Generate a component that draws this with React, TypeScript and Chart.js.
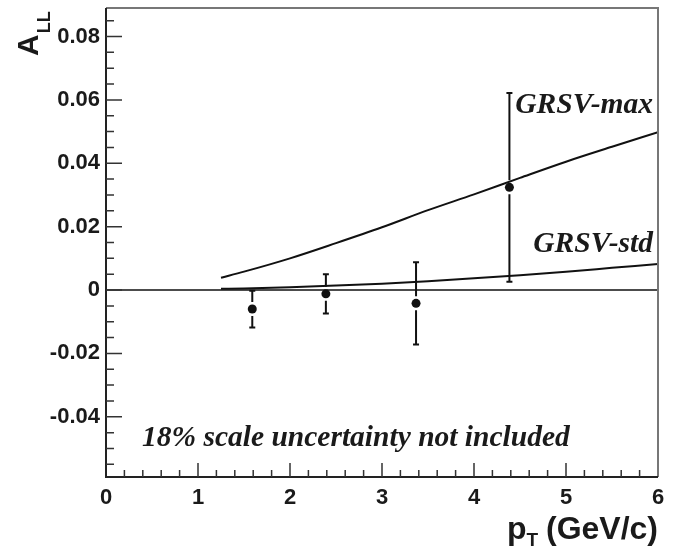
import React, { useEffect, useRef } from "react";
import { Chart, registerables } from "chart.js";
Chart.register(...registerables);

// Measured asymmetry points
const dataX = [1.59, 2.39, 3.37, 4.385];
const dataY = [-0.006, -0.0012, -0.0042, 0.0324];
const dataErr = [0.0058, 0.0062, 0.013, 0.0298];

// Theory curves
const curveX = [1.25, 1.5, 2, 2.5, 3, 3.5, 4, 4.5, 5, 5.5, 6];
const maxY = [0.0039, 0.0058, 0.01, 0.0148, 0.0198, 0.0252, 0.0302, 0.0354, 0.0405, 0.0452, 0.0498];
const stdY = [0.0004, 0.0005, 0.0009, 0.0014, 0.002, 0.0028, 0.0037, 0.0047, 0.0058, 0.007, 0.0082];

const xTicks = [0, 1, 2, 3, 4, 5, 6];
const yTicks = [-0.04, -0.02, 0, 0.02, 0.04, 0.06, 0.08];
const xMinorStep = 0.2;
const yMinorStep = 0.005;

const labelMax = "GRSV-max";
const labelStd = "GRSV-std";
const noteText = "18% scale uncertainty not included";

const X_MIN = 0, X_MAX = 6, Y_MIN = -0.059, Y_MAX = 0.089;

const decorPlugin = {
  id: "decor",
  beforeDatasetsDraw(chart: any) {
    const { ctx, chartArea: a, scales } = chart;
    const y = scales.y;
    ctx.save();
    ctx.strokeStyle = "#111";
    ctx.lineWidth = 1.5;
    const y0 = y.getPixelForValue(0);
    ctx.beginPath();
    ctx.moveTo(a.left, y0);
    ctx.lineTo(a.right, y0);
    ctx.stroke();
    ctx.restore();
  },
  afterDatasetsDraw(chart: any) {
    const { ctx, chartArea: a, scales } = chart;
    const x = scales.x, y = scales.y;
    ctx.save();
    // error bars
    ctx.strokeStyle = "#111";
    ctx.lineWidth = 2;
    const gap = 7, cap = 3;
    for (let i = 0; i < dataX.length; i++) {
      const px = x.getPixelForValue(dataX[i]);
      const py = y.getPixelForValue(dataY[i]);
      const pt = y.getPixelForValue(dataY[i] + dataErr[i]);
      const pb = y.getPixelForValue(dataY[i] - dataErr[i]);
      ctx.beginPath();
      if (pt < py - gap) { ctx.moveTo(px, pt); ctx.lineTo(px, py - gap); }
      if (pb > py + gap) { ctx.moveTo(px, py + gap); ctx.lineTo(px, pb); }
      ctx.moveTo(px - cap, pt); ctx.lineTo(px + cap, pt);
      ctx.moveTo(px - cap, pb); ctx.lineTo(px + cap, pb);
      ctx.stroke();
    }
    // frame
    ctx.lineWidth = 2;
    ctx.strokeStyle = "#777";
    ctx.beginPath();
    ctx.moveTo(a.left, a.top); ctx.lineTo(a.right, a.top); ctx.lineTo(a.right, a.bottom);
    ctx.stroke();
    ctx.strokeStyle = "#222";
    ctx.beginPath();
    ctx.moveTo(a.left, a.top); ctx.lineTo(a.left, a.bottom); ctx.lineTo(a.right, a.bottom);
    ctx.stroke();
    // ticks
    ctx.lineWidth = 1.5;
    ctx.strokeStyle = "#333";
    ctx.beginPath();
    for (let k = -20; k <= 20; k++) {
      const v = Math.round((k * yMinorStep) * 1e6) / 1e6;
      if (v < Y_MIN || v > Y_MAX) continue;
      const major = Math.abs(v / 0.02 - Math.round(v / 0.02)) < 1e-6;
      const py = y.getPixelForValue(v);
      ctx.moveTo(a.left, py); ctx.lineTo(a.left + (major ? 16 : 8), py);
    }
    for (let k = 0; k <= 30; k++) {
      const v = k * xMinorStep;
      if (v <= X_MIN + 1e-9 || v >= X_MAX - 1e-9) continue;
      const major = Math.abs(v - Math.round(v)) < 1e-6;
      const px = x.getPixelForValue(v);
      ctx.moveTo(px, a.bottom); ctx.lineTo(px, a.bottom - (major ? 14 : 7));
    }
    ctx.stroke();
    // curve labels & note
    ctx.fillStyle = "#1a1a1a";
    ctx.font = "italic bold 29.5px 'Liberation Serif'";
    ctx.textAlign = "right";
    ctx.textBaseline = "alphabetic";
    ctx.fillText(labelMax, 653, 113);
    ctx.fillText(labelStd, 653, 252);
    ctx.textAlign = "left";
    ctx.fillText(noteText, 142, 446);
    // x title
    ctx.font = "bold 32px 'Liberation Sans'";
    ctx.textAlign = "right";
    const rest = " (GeV/c)";
    const restW = ctx.measureText(rest).width;
    ctx.fillText(rest, 658, 539);
    ctx.font = "bold 19px 'Liberation Sans'";
    const tW = ctx.measureText("T").width;
    ctx.fillText("T", 658 - restW + 1, 546);
    ctx.font = "bold 32px 'Liberation Sans'";
    ctx.fillText("p", 658 - restW - tW + 1, 539);
    // y title
    ctx.save();
    ctx.translate(38, 56);
    ctx.rotate(-Math.PI / 2);
    ctx.textAlign = "left";
    ctx.font = "bold 30px 'Liberation Sans'";
    ctx.fillText("A", 0, 0);
    const aW = ctx.measureText("A").width;
    ctx.font = "bold 18px 'Liberation Sans'";
    ctx.fillText("LL", aW + 1, 12);
    ctx.restore();
    ctx.restore();
  },
};

export default function App() {
  const ref = useRef<HTMLCanvasElement | null>(null);
  useEffect(() => {
    if (!ref.current) return;
    const tickFont = { family: "'Liberation Sans'", weight: "bold" as const, size: 22 };
    const chart = new Chart(ref.current, {
      type: "scatter",
      data: {
        datasets: [
          {
            label: "GRSV-max",
            data: curveX.map((v, i) => ({ x: v, y: maxY[i] })),
            showLine: true,
            pointRadius: 0,
            borderColor: "#111",
            borderWidth: 2,
            cubicInterpolationMode: "monotone",
          },
          {
            label: "GRSV-std",
            data: curveX.map((v, i) => ({ x: v, y: stdY[i] })),
            showLine: true,
            pointRadius: 0,
            borderColor: "#111",
            borderWidth: 2,
            cubicInterpolationMode: "monotone",
          },
          {
            label: "data",
            data: dataX.map((v, i) => ({ x: v, y: dataY[i] })),
            pointRadius: 4.5,
            backgroundColor: "#111",
            borderWidth: 0,
          },
        ],
      },
      options: {
        responsive: false,
        animation: false,
        layout: { padding: { top: 8, right: 30, left: 0, bottom: 0 } },
        plugins: { legend: { display: false }, tooltip: { enabled: false } },
        scales: {
          x: {
            type: "linear",
            min: X_MIN,
            max: X_MAX,
            afterBuildTicks: (s: any) => { s.ticks = xTicks.map((v) => ({ value: v })); },
            afterFit: (s: any) => { s.height = 72; s.paddingLeft = 0; s.paddingRight = 0; },
            grid: { display: false, drawTicks: false },
            border: { display: false },
            ticks: { font: tickFont, color: "#1a1a1a", padding: 8, maxRotation: 0, autoSkip: false, callback: (v: any) => String(v) },
          },
          y: {
            type: "linear",
            min: Y_MIN,
            max: Y_MAX,
            afterBuildTicks: (s: any) => { s.ticks = yTicks.map((v) => ({ value: v })); },
            afterFit: (s: any) => { s.width = 106; s.paddingTop = 0; s.paddingBottom = 0; },
            grid: { display: false, drawTicks: false },
            border: { display: false },
            ticks: { font: tickFont, color: "#1a1a1a", padding: 6, autoSkip: false, callback: (v: any) => (Math.abs(v) < 1e-9 ? "0" : Number(v).toFixed(2)) },
          },
        },
      },
      plugins: [decorPlugin],
    });
    return () => chart.destroy();
  }, []);
  return (
    <div style={{ position: "absolute", left: 0, top: 0, width: 688, height: 549, background: "#fff" }}>
      <canvas ref={ref} width={688} height={549} />
    </div>
  );
}
